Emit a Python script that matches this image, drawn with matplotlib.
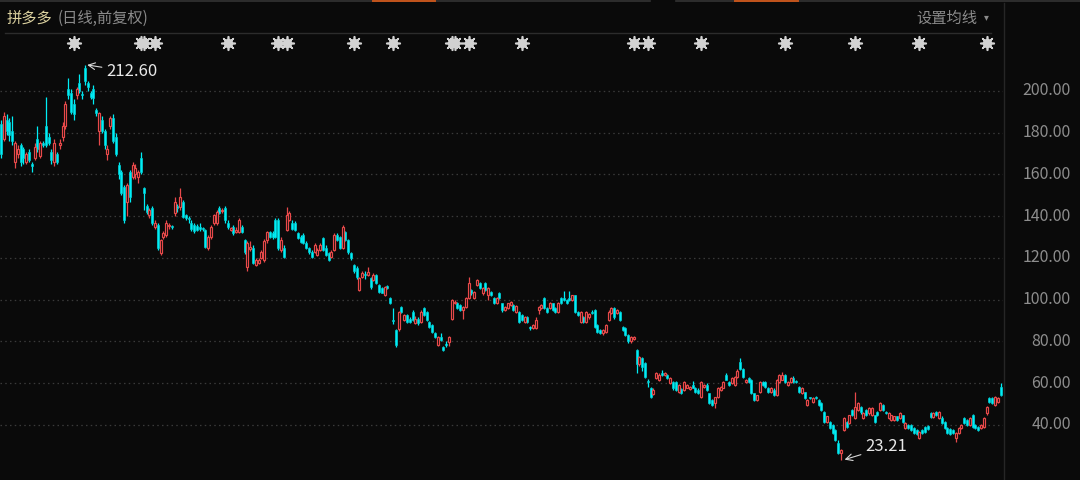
import matplotlib
matplotlib.use("Agg")
import matplotlib.pyplot as plt
from matplotlib.transforms import blended_transform_factory
import numpy as np

# ---------------- data ----------------
opens = [184,177,186,185,181,166,170,174,172,166, 171,165,168,177,169,175,183,178,171,166,
         170,174,178,183,201,199,194,198,204,198.5, 211,204,199,201,191,181,186,181,170,183,
         187,178,164.5,161,154,147,161,159,160,159, 168,153.5,145,140.5,144,135,136,122.4,130,131,
         135.5,135.5,141.5,145,144.5,147,140.5,139,137,136, 135.5,135,134.5,133.4,125,130,137,137,144,142.5,
         144,137,133.5,135,132.5,132.5,135,128.6,115.7,124.5, 125,116.6,117.6,120,119,128.6,132.5,132,138,138,
         124,125,133.4,138,137,137,132,130,131,127, 125,123,123,121.5,124,129.6,125,122.4,120.5,124,
         131,130,125,132.5,128.6,122.4,116.6,115,104.7,111, 112.5,112,110.4,109.5,112,107,105.6,102.3,106.5,101,
         90.5,85.5,86,96.5,90.3,92.7,91,94,88.9,91, 89.4,96,94,89.4,88,84,78.3,82,77.4,78.5,
         79.8,91,98.5,98.3,97.5,95,96.5,101,104.7,101, 107,108,103,108,102.3,103.7,101,98.3,103,98.3,
         95,96,97.5,97.5,94,94,92.7,89.4,91.7,86.7, 86.5,86.5,95,96,101,96,96,98.3,96,94,
         101,101,100,101,100,102.3,94,89.4,91.7,89.4, 91.7,94.2,95,88,85.5,84,84.5,90.3,93.6,96,
         93.6,94,87,86.5,83,80,81,76,69,72, 69.5,61,57.7,55,62.5,61.7,65,64,64,60,
         60.6,60.6,55.8,57.3,57,57.7,57.3,59,57.7,57, 53.4,58,59,55.3,52,50.5,53.4,57,57.7,64,
         60.6,60,59,63,70,67,60.6,62.5,61.7,55.3, 52,55.8,60.6,60.6,57.7,55.8,57,54.4,60.6,61.7,
         64,59,60.6,62.5,61,58,55.3,55.8,49.6,53.2, 51,53.2,52,50.5,46,41.4,41.4,40,37.6,31.4,
         26.6,37.6,41.4,41,47,43.4,47,48.6,43.4,47, 45.6,44.8,44.8,46,47,49.6,46.2,43.4,42.4,42.4,
         44.3,43.4,44.8,38.6,40,40,38.6,37.6,33.8,37.6, 39,39.5,45.6,43.8,46,43.4,43.4,41.4,38.6,38,
         37.6,33.8,36.2,38.6,43.4,42.4,40,44.8,40,39, 38.6,39,45.6,53,53,49.6,51,58]

highs = [186,190,189,187,188,176,174,175,173,171, 172,166,175,183,176,176,197,180,172,177,
         171,177,185,195,206,201,196,202,208,200, 212.6,205,200,203,192,190,188,182,174,188,
         189,180,166,162,155,156,162,166,165,162, 171,154,146,144,145,138,137,129,133,138,
         137,136,149,146,153.5,148,141,140,138,137, 136.5,137,135,134,131,136,141,143,145,144,
         145,138,135,136,135,139,136,129,128,128, 126,120,120,124,129,133,133,133,139,139,
         130,126,144.5,142.5,138,137.5,132.5,131,132,128, 125.5,124,127,125,127,130,126,123,124,132,
         132,130.5,136,133,129,123,117,116,111,114, 114,115.7,111,113,112.5,107.5,106,106.5,107,101.5,
         96,86,94.5,97,93,93,91.5,95,92,91.5, 95,96.5,94.5,90,88.5,84.5,82.5,84,78,80,
         82.5,100.5,100,99,98,97,101.5,111,105,104, 110,108.5,106,108.5,106,104,101.5,101.5,103.5,98.5,
         97,98.5,99.5,98,97.5,94.5,93,92,92,87.5, 88.5,91.5,97,98,101.5,96.5,99,98.5,96.5,99,
         101.5,104,100.5,104,102.5,102.5,94.5,94.5,92,94.5, 93.5,95,95.5,88.5,86,86,88.5,95,96.5,96.5,
         95.5,94.5,87.5,87,83.5,82.5,82.5,76.5,73,72.5, 70,62,58,57.5,65.5,65,66.5,65.5,64.5,63,
         61,61,59.5,57.5,61,59.5,58.5,61,58,57.5, 61,59.5,60,55.5,52.5,53.5,58,58.5,61,65,
         61,63,63.5,67,72,67.5,62,63,62,55.5, 54.5,61,61,61,58,58,57.5,62,64.5,65.5,
         64.5,61,63,63.5,61.5,58.5,58,56,52.5,53.5, 53.5,54,52.5,51,46.5,44.5,42,40.5,38,33,
         28.5,44,42,45,47.5,55.8,51,49,46,47.5, 48.5,48.5,45,46.5,51,50,46.5,46,45,44.5,
         44.5,46,45,41.5,40.5,40.5,39,38,37,38, 39.5,40,46,46,46.5,46.5,44.5,42,39,38.5,
         38,36.5,39,40.5,43.8,42.8,44,45.5,40.5,39.5, 40.5,43.8,49,53.5,53.5,53.8,53.5,60]

lows = [168,176,179,176,174,163,168,164,165,165, 166,161,167,171,168,173,173,174,165,164,
        165,172,176,182,196,189,186,196,199,196, 203,200,196,194,188,174,180,172,167,182,
        175,169,158,150,137,140,147,158,158,156, 160,143,141,139,136,134,124,121.5,129,130,
        134,134,140,142,143,139,138,137,133,132, 133,133,133,125,124,129,136,136,141,141.5,
        137,134,133,131,132,132,132,122,114,123.5, 117,116,117,119.5,118,127,129.5,129,129.5,124,
        123,120,133,137.5,133.5,133,129,127,126.5,124.5, 122,120,122.5,121,123.5,123.5,121,118.5,120,123.5,
        128,124.5,124.5,128,122,119,113,110,104,110.5, 110,111.5,105,109,107.5,103,103,102,105,98,
        88.5,77.5,85,93.5,90,89,89,90,88.5,88, 89,92,90,86.5,84,81.5,78,80,75.5,77.5,
        78,90.5,98,95.5,94.5,91,96,100.5,102.5,100.5, 106.5,105,102.5,104,100,102,98,98,100.5,94,
        94.5,95.5,97,94.5,93.5,89,90,89,89,85.5, 86,86,93,95.5,95.5,93.5,95.5,94.5,93.5,93.5,
        98,99.5,98,99.5,99.5,93.5,92,89,89,89, 91,93,86.5,84,83.5,83,84,90,93,91,
        93,90,85,82.5,79.5,79.5,80.5,65,68.5,66, 62.5,58,53,54.5,62,61,63.5,63.5,62,59.5,
        57,56.5,55.5,55,56.5,57.5,57,57.5,55.5,55, 53,57.5,56.5,50,49,48,53,56.5,57.5,61.5,
        58.5,59.5,58.5,62.5,66.5,62.5,60,60,55,51.5, 51.5,55.5,58.5,57.5,55.5,55.5,54,54,60,61.5,
        60,58.5,60,60,60,55.5,55,52.5,49,52.5, 50.5,52.5,49,46.5,41,41,38,35.5,32.5,26,
        23.21,37,38.5,40.5,44.5,43,46.5,45.5,43,44.5, 45,44.5,41,44.5,46.5,46.5,45.5,43,42,42,
        42,43,41,38,38,37,35.8,35.2,33.3,35.8, 36.3,37.5,43.5,43.5,44.5,43,40.5,38,35.8,35.2,
        35.8,32,35.8,38.2,40.5,39.5,39.5,38.5,38,37, 38.2,38.6,45,50.5,50,49,50.5,54]

closes = [170,188,181,179,176,175,172,166,168,170, 167,164,173,172,175,174,174,175,167,175,
          166,175,183,194,198,190,189,201,200,198, 205,202,197,196.6,189.5,189.5,181,174,172,187,
          176,170,160,151,138,155,149,164.5,163,161, 161,151,142,143,137,137,125,128.6,132,137,
          136,135,147,144,149,139.6,139,138.5,134,133, 133.5,134,134,125.3,130,135,140.5,142,141.5,143,
          138,135,134.5,132,133.5,138,132.5,123,127,125.5, 117.6,119,119,123,128,132.5,130,130,130,125,
          128.6,120.5,140.5,141.5,134,133.4,129.6,127.7,127,125, 123,120.5,126,124,126,124,121.5,119,123,131,
          128.6,125,135,128.6,123,120,114,111,110.4,113, 112,113.3,106,112,108,103.7,103.2,106,105.6,98.3,
          90,78.3,94,94,92.7,89.4,89.4,90.3,91,88.9, 94,92.7,90.3,87,84.5,82,82,80.7,76,78.2,
          82,100,99,96,95,96.5,101,108,103,103.7, 109.5,105.6,105.6,104.7,105.6,102.3,98.3,101,101,95,
          96.5,98.3,99,95,97,89.4,90.3,91.7,89.4,86.3, 88,90.3,96.5,97.5,96,94,98.3,95,94,98.3,
          98.3,100,98.3,100,102.3,94,92.7,94,89.4,94, 93,93.8,87,84.5,84,85.5,88,94,96,91.7,
          95,90.3,85.5,83,80,82,82,69,72.6,67.8, 63,60.5,53.4,57,65,64,64,65,62.5,62.5,
          57.7,57,59,55.3,60.6,59,58,57.7,55.8,55.3, 60.6,59,57,50.5,49.6,53.4,57.7,58,60.6,61.7,
          59,62.5,63,66,67,63,61.7,60.6,55.3,52, 54.4,60.6,59,58,55.8,57.7,54.4,61.7,64,64,
          60.6,60.6,62.5,60.6,60.5,55.8,57.7,53,52,52.8, 53,52.8,49.6,47,41.4,44.3,38.6,36.2,32.8,26.6,
          28,43.4,39,44.8,44.8,48.6,50.5,46,45.6,44.8, 48,48,41.4,44.8,50.5,47,45.8,45.6,44.8,44.3,
          42.4,45.6,41.4,41,38.6,37.6,36.2,35.7,36.7,36.2, 36.7,38,43.8,45.6,44.8,46,41,38.6,36.2,35.6,
          36.2,36.2,38.6,40,41,40,43.4,39,38.6,37.6, 40,43.4,48.6,51,50.5,53.4,53,54.4]

# candle indices that carry an event marker (gear symbols along the top)
event_idx = [26, 50, 51, 55, 81, 99, 102, 126, 140, 161, 162, 167, 186, 226, 231, 250, 280, 305, 328, 352]

y_ticks = [40, 60, 80, 100, 120, 140, 160, 180, 200]
y_tick_labels = ["40.00", "60.00", "80.00", "100.00", "120.00", "140.00", "160.00", "180.00", "200.00"]

title_text = "拼多多"
subtitle_text = "(日线,前复权)"
ma_text = "设置均线"
max_label = "212.60"
min_label = "23.21"

# ---------------- style ----------------
BG = "#0a0a0a"
CYAN = "#00eef6"
RED = "#e8494a"
GRID = "#3a3a3a"
AXIS_TXT = "#8e8e8e"
GEAR = "#d2d2d2"
CJK = ["Noto Sans CJK SC", "DejaVu Sans"]
plt.rcParams["font.family"] = CJK

W, H = 1080, 480
PLOT_R = 1003          # right edge of the candle area (px)
STEP = 2.8             # px between candles
Y_TOP, Y_BOT = 243.59, 13.65

n = len(opens)
assert n == len(highs) == len(lows) == len(closes)

fig = plt.figure(figsize=(W / 100, H / 100), dpi=100, facecolor=BG)
ax = fig.add_axes([0, 0, PLOT_R / W, 1])
ax.set_facecolor(BG)
ax.set_xlim(-1 / STEP, (PLOT_R - 1) / STEP)
ax.set_ylim(Y_BOT, Y_TOP)
for s in ax.spines.values():
    s.set_visible(False)
ax.set_xticks([])
ax.set_yticks([])

# grid
for v in y_ticks:
    ax.axhline(v, color=GRID, lw=0.9, ls=(0, (1.2, 2.6)), zorder=0)

o = np.array(opens, float)
h = np.array(highs, float)
l = np.array(lows, float)
c = np.array(closes, float)
x = np.arange(n)
up = c >= o
top = np.maximum(o, c)
bot = np.minimum(o, c)
body = np.maximum(top - bot, 0.45)
width = 0.72

# wicks
for mask, col in ((up, RED), (~up, CYAN)):
    ax.vlines(x[mask], top[mask], h[mask], color=col, lw=0.9, zorder=2)
    ax.vlines(x[mask], l[mask], bot[mask], color=col, lw=0.9, zorder=2)
# bodies
ax.bar(x[~up], body[~up], bottom=bot[~up], width=width, color=CYAN,
       edgecolor=CYAN, lw=0.4, zorder=3)
ax.bar(x[up], body[up], bottom=bot[up], width=width, color=BG,
       edgecolor=RED, lw=0.85, zorder=3)

# event markers
ev_y = 200 + (91 - 43) / 2.0875
ax.scatter(event_idx, [ev_y] * len(event_idx), marker="o", s=48,
           color=GEAR, lw=0, zorder=4, clip_on=False)
ax.scatter(event_idx, [ev_y] * len(event_idx), marker=(8, 2, 0), s=95,
           color=GEAR, lw=1.2, zorder=4, clip_on=False)

# max / min annotations
imax = int(np.argmax(h))
imin = int(np.argmin(l))
ax.annotate(max_label, xy=(imax + 0.3, h[imax]), xytext=((106 - 1) / STEP, 200 + (91 - 72) / 2.0875),
            ha="left", va="center", color="#e8e8e8", fontsize=12,
            arrowprops=dict(arrowstyle="->", color="#d8d8d8", lw=0.8, shrinkA=1, shrinkB=1))
ax.annotate(min_label, xy=(imin + 0.8, l[imin]), xytext=((865 - 1) / STEP, 40 - (447 - 425) / 2.0875),
            ha="left", va="center", color="#e8e8e8", fontsize=12,
            arrowprops=dict(arrowstyle="->", color="#d8d8d8", lw=0.8, shrinkA=1, shrinkB=1))

# right axis labels
tr = blended_transform_factory(fig.transFigure, ax.transData)
for v, lab in zip(y_ticks, y_tick_labels):
    ax.text(1071 / W, v, lab, transform=tr, ha="right", va="center",
            color=AXIS_TXT, fontsize=11.5, clip_on=False)

# separators and header
def fx(px):
    return px / W

def fy(py):
    return 1 - py / H

fig.add_artist(plt.Line2D([fx(1003.5), fx(1003.5)], [0, fy(3)], color="#262626", lw=1))
fig.add_artist(plt.Line2D([fx(5), fx(991)], [fy(32.5), fy(32.5)], color="#2c2c2c", lw=1))
# top tab strip
fig.add_artist(plt.Line2D([0, fx(650)], [fy(1), fy(1)], color="#333333", lw=1.2))
fig.add_artist(plt.Line2D([fx(676), 1], [fy(1), fy(1)], color="#333333", lw=1.2))
for a, b in ((373, 435), (735, 798)):
    fig.add_artist(plt.Line2D([fx(a), fx(b)], [fy(1), fy(1)], color="#c4551c", lw=1.4))

fig.text(fx(7), fy(18), title_text, color="#dcd2a0", fontsize=11, ha="left", va="center")
fig.text(fx(58), fy(18), subtitle_text, color="#8a8a8a", fontsize=11, ha="left", va="center")
fig.text(fx(977), fy(18), ma_text, color="#8a8a8a", fontsize=11, ha="right", va="center")
fig.text(fx(986), fy(17), "▾", color="#8a8a8a", fontsize=7, ha="center", va="center",
         family="DejaVu Sans")

fig.savefig("out.png", dpi=100, facecolor=BG)
